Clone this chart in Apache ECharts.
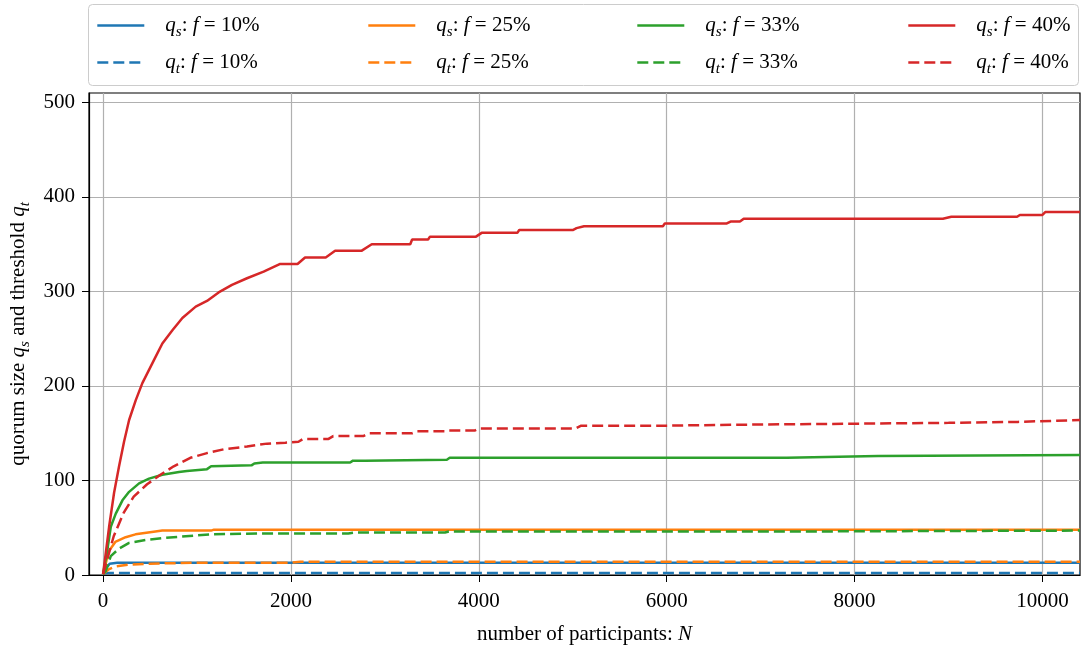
<!DOCTYPE html>
<html>
<head>
<meta charset="utf-8">
<script src="https://cdn.jsdelivr.net/npm/echarts@6/dist/echarts.min.js"></script>
<style>
html,body{margin:0;padding:0;background:#fff;}
#chart{width:1081px;height:646px;}
</style>
</head>
<body>
<div id="chart"></div>
<script>
// ---- data ----
const xTicks = [0, 2000, 4000, 6000, 8000, 10000];
const yTicks = [0, 100, 200, 300, 400, 500];

const qsF10 = [[0,1],[25,6],[70,12],[150,13],[10400,13]];
const qtF10 = [[0,1],[30,2],[10400,2]];
const qsF25 = [[0,1],[60,25],[130,35],[240,40],[345,43],[557,46],[630,47],[1150,47],[1180,48],[10400,48]];
const qtF25 = [[0,1],[60,6],[130,9],[280,11],[500,12],[1000,13],[2000,13],[2100,14],[10400,14]];
const qsF33 = [[0,1],[46,27],[82,51],[135,65],[206,79],[277,88],[383,97],[489,102],[631,106],[808,109],[893,110],[1106,112],[1150,115],[1580,116],[1610,118],[1700,119],[2630,119],[2660,121],[2790,121],[2810,122],[3660,122],[3690,124],[7280,124],[7300,126],[8250,126],[8270,127],[10400,127]];
const qtF33 = [[0,1],[28,4],[82,20],[170,28],[277,34],[454,37],[631,39],[879,41],[1163,43],[1660,44],[2610,44],[2680,45],[3640,45],[3680,46],[7280,46],[7300,47],[10400,47]];
const qsF40 = [[0,1],[64,51],[117,87],[170,115],[223,141],[277,164],[348,185],[418,203],[489,217],[560,231],[631,245],[738,259],[844,272],[986,284],[1106,290],[1230,299],[1372,307],[1532,314],[1709,321],[1880,329],[2070,329],[2150,336],[2370,336],[2470,343],[2750,343],[2860,350],[3270,350],[3290,355],[3460,355],[3480,358],[3970,358],[4030,362],[4410,362],[4430,365],[5000,365],[5040,367],[5120,369],[5960,369],[5980,372],[6640,372],[6680,374],[6780,374],[6820,377],[8940,377],[9030,379],[9730,379],[9760,381],[10000,381],[10030,384],[10400,384]];
const qtF40 = [[0,1],[113,41],[220,66],[326,83],[468,96],[610,106],[752,115],[929,124],[1106,129],[1284,133],[1532,136],[1745,139],[1940,140],[2080,141],[2130,144],[2400,144],[2450,147],[2770,147],[2830,150],[3290,150],[3340,152],[3640,152],[3680,153],[3960,153],[4000,155],[5030,155],[5090,158],[5980,158],[6000,159],[6760,159],[6780,161],[9000,161],[9020,162],[9740,162],[9760,164],[10400,164]];

const seriesNames = ['qs10','qt10','qs25','qt25','qs33','qt33','qs40','qt40'];
const seriesData = [qsF10, qtF10, qsF25, qtF25, qsF33, qtF33, qsF40, qtF40];
const percents = ['10%','10%','25%','25%','33%','33%','40%','40%'];
const subs = ['s','t','s','t','s','t','s','t'];
const colors = ['#1f77b4','#1f77b4','#ff7f0e','#ff7f0e','#2ca02c','#2ca02c','#d62728','#d62728'];

// ---- chart ----
const FONT = 'Liberation Serif';
const FS = 21;
const rich = {
  i: {fontFamily: FONT, fontStyle: 'italic', fontSize: FS, color: '#000', lineHeight: 28, verticalAlign: 'middle'},
  n: {fontFamily: FONT, fontSize: FS, color: '#000', lineHeight: 28, verticalAlign: 'middle'},
  sub: {fontFamily: FONT, fontStyle: 'italic', fontSize: 15, color: '#000', lineHeight: 28, verticalAlign: 'bottom'},
  sp: {width: 16, lineHeight: 28}
};

const chart = echarts.init(document.getElementById('chart'), null, {renderer: 'canvas'});

const legendLeft = [96, 367, 636, 907];
const legendTop = [15, 52];
const legends = seriesNames.map((nm, k) => ({
  data: [nm],
  left: legendLeft[Math.floor(k / 2)],
  top: legendTop[k % 2],
  padding: 0,
  itemWidth: 47,
  itemHeight: 14,
  selectedMode: false,
  itemStyle: {opacity: 0, borderWidth: 0},
  lineStyle: {width: 2.6},
  formatter: function () {
    return '{sp|}{i|q}{sub|' + subs[k] + '}{n|: }{i|f}{n| = ' + percents[k] + '}';
  },
  textStyle: {rich: rich, fontFamily: FONT, fontSize: FS}
}));

const series = seriesNames.map((nm, k) => ({
  name: nm,
  type: 'line',
  data: seriesData[k],
  symbol: 'none',
  showSymbol: false,
  clip: true,
  z: 2 + k,
  lineStyle: {
    color: colors[k],
    width: 2.5,
    type: (k % 2 === 1) ? [11, 5] : 'solid'
  },
  itemStyle: {color: colors[k]},
  emphasis: {disabled: true}
}));

const plainNum = v => String(v);

chart.setOption({
  animation: false,
  backgroundColor: '#fff',
  graphic: [{
    type: 'rect',
    shape: {x: 88.5, y: 4.5, width: 990, height: 81, r: 4},
    style: {fill: 'rgba(255,255,255,0.8)', stroke: '#cccccc', lineWidth: 1},
    z: -1
  }],
  legend: legends,
  grid: {
    left: 89, top: 93, right: 1, bottom: 71,
    containLabel: false,
    outerBoundsMode: 'none',
    show: true, borderColor: '#000', borderWidth: 1.2, backgroundColor: 'transparent'
  },
  xAxis: {
    type: 'value',
    min: -150, max: 10400,
    name: '{n|number of participants: }{i|N}',
    nameLocation: 'middle',
    nameGap: 45,
    nameTextStyle: {rich: rich, fontFamily: FONT, fontSize: FS},
    axisLine: {show: true, onZero: false, lineStyle: {color: '#000', width: 1.2}},
    axisTick: {show: true, length: 7, lineStyle: {color: '#000', width: 1}, customValues: xTicks},
    axisLabel: {fontFamily: FONT, fontSize: FS, color: '#000', margin: 16, customValues: xTicks, formatter: plainNum},
    splitLine: {show: true, lineStyle: {color: '#b0b0b0', width: 1.2}}
  },
  yAxis: {
    type: 'value',
    min: 0, max: 510,
    interval: 100,
    name: '{n|quorum size }{i|q}{sub|s}{n| and threshold }{i|q}{sub|t}',
    nameLocation: 'middle',
    nameGap: 56,
    nameTextStyle: {rich: rich, fontFamily: FONT, fontSize: FS},
    axisLine: {show: true, onZero: false, lineStyle: {color: '#000', width: 1.2}},
    axisTick: {show: true, length: 7, lineStyle: {color: '#000', width: 1}, customValues: yTicks},
    axisLabel: {fontFamily: FONT, fontSize: FS, color: '#000', margin: 14, customValues: yTicks, formatter: plainNum},
    splitLine: {show: true, lineStyle: {color: '#b0b0b0', width: 1.2}}
  },
  series: series
});
</script>
</body>
</html>
